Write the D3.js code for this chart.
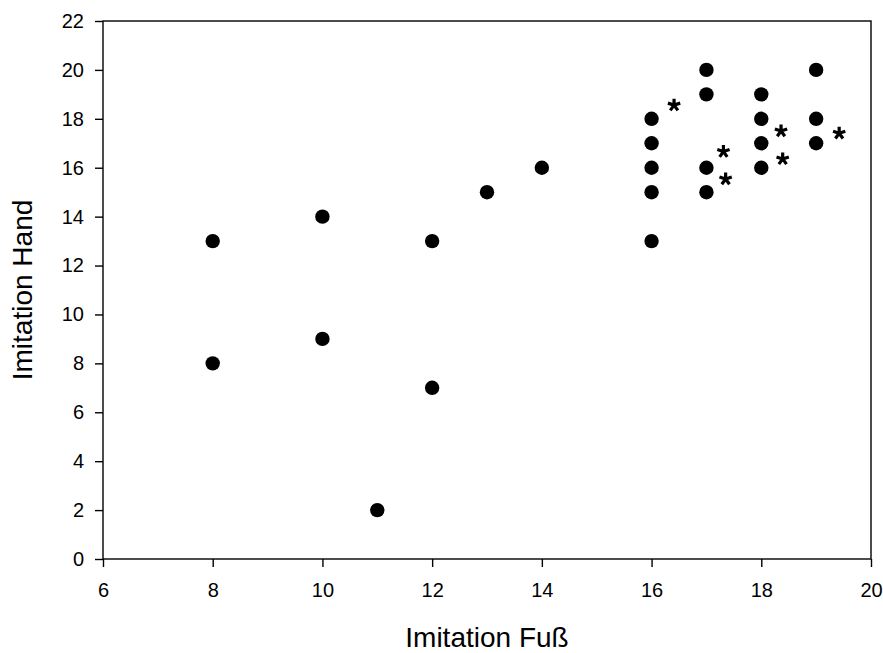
<!DOCTYPE html>
<html><head><meta charset="utf-8">
<script src="https://cdn.jsdelivr.net/npm/d3@7"></script>
<style>body{margin:0;background:#fff}svg{display:block}text{font-family:"Liberation Sans",Arial,sans-serif}</style>
</head><body><svg id="c" width="883" height="653"></svg>
<script>
const footValues = [8,8,10,10,11,12,12,13,14,16,16,16,16,16,17,17,17,17,18,18,18,18,19,19,19];
const handValues = [13,8,14,9,2,13,7,15,16,18,17,16,15,13,20,19,16,15,19,18,17,16,20,18,17];
const starX = [16.41,17.31,17.35,18.36,18.39,19.42];
const starY = [18.56,16.66,15.54,17.50,16.36,17.41];
const xTicks = [6,8,10,12,14,16,18,20];
const yTicks = [0,2,4,6,8,10,12,14,16,18,20,22];
const xTitle = "Imitation Fuß";
const yTitle = "Imitation Hand";

const svg = d3.select("#c");
const L=103,R=871,T=21,B=559;
const x = d3.scaleLinear().domain([6,20]).range([L,R]);
const y = d3.scaleLinear().domain([0,22]).range([B,T]);

const gx = svg.append("g").attr("transform",`translate(0,${B})`)
  .call(d3.axisBottom(x).tickValues(xTicks).tickSize(8).tickPadding(16).tickFormat(d3.format("d")));
const gy = svg.append("g").attr("transform",`translate(${L},0)`)
  .call(d3.axisLeft(y).tickValues(yTicks).tickSize(8).tickPadding(11).tickFormat(d3.format("d")));
[gx,gy].forEach(g=>{
  g.selectAll("text").attr("font-size",20).attr("fill","#000").style("font-family",'"Liberation Sans",Arial,sans-serif');
  g.selectAll("line,path").attr("stroke","#000").attr("stroke-width",1.4);
});
gx.select(".domain").remove(); gy.select(".domain").remove();
svg.append("rect").attr("x",L).attr("y",T).attr("width",R-L).attr("height",B-T)
  .attr("fill","none").attr("stroke","#000").attr("stroke-width",1.4);

svg.append("g").selectAll("circle").data(footValues).join("circle")
  .attr("cx",d=>x(d)).attr("cy",(d,i)=>y(handValues[i])).attr("r",7.2).attr("fill","#000");

// five-armed asterisk marker
const asterisk = {draw(ctx,size){
  const r=Math.sqrt(size);
  for(let k=0;k<5;k++){
    const a=-Math.PI/2+k*2*Math.PI/5;
    ctx.moveTo(0,0); ctx.lineTo(r*Math.cos(a), r*Math.sin(a));
  }
}};
svg.append("g").selectAll("path").data(starX).join("path")
  .attr("transform",(d,i)=>`translate(${x(d)},${y(starY[i])})`)
  .attr("d",d3.symbol().type(asterisk).size(42))
  .attr("fill","none").attr("stroke","#000").attr("stroke-width",3.2);

svg.append("text").attr("x",(L+R)/2).attr("y",647).attr("text-anchor","middle")
  .attr("font-size",28).text(xTitle);
svg.append("text").attr("transform",`translate(32,${(T+B)/2}) rotate(-90)`).attr("text-anchor","middle")
  .attr("font-size",28).text(yTitle);
</script></body></html>
